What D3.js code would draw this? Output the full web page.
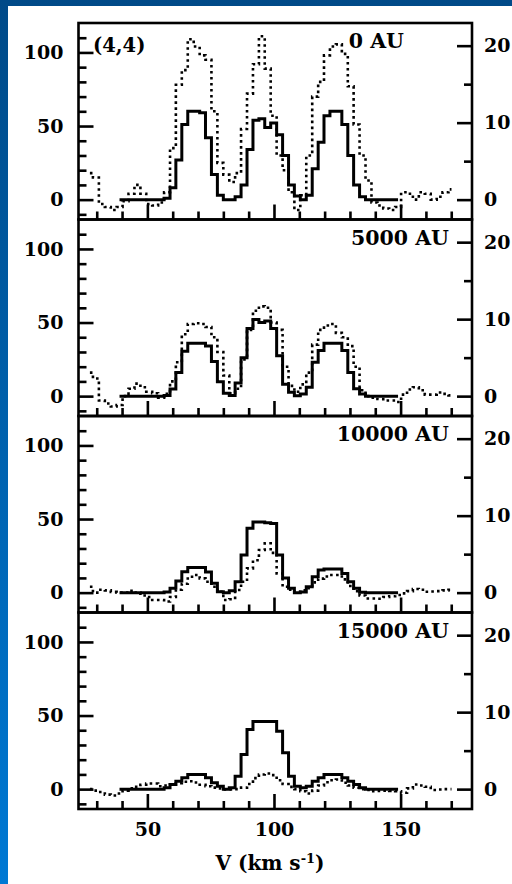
<!DOCTYPE html>
<html>
<head>
<meta charset="utf-8">
<script src="https://cdn.jsdelivr.net/npm/d3@7"></script>
<style>
  html, body { margin: 0; padding: 0; background: #fff; }
  svg { display: block; }
  text { font-family: "DejaVu Serif", serif; font-weight: bold; fill: #000; }
</style>
</head>
<body>
<svg id="chart" width="512" height="884"></svg>
<script>
// Perfis de linha (4,4) em quatro distâncias

// Centros dos canais (km/s)
const velocity = [
  27.3, 29.7, 32.0, 34.4, 36.7, 39.0, 41.4, 43.7, 46.1, 48.4,
  50.7, 53.1, 55.4, 57.8, 60.1, 62.4, 64.8, 67.1, 69.5, 71.8,
  74.1, 76.5, 78.8, 81.2, 83.5, 85.8, 88.2, 90.5, 92.9, 95.2,
  97.5, 99.9, 102.2, 104.6, 106.9, 109.2, 111.6, 113.9, 116.3, 118.6,
  120.9, 123.3, 125.6, 128.0, 130.3, 132.6, 135.0, 137.3, 139.7, 142.0,
  144.3, 146.7, 149.0, 151.4, 153.7, 156.0, 158.4, 160.7, 163.1, 165.4,
  167.7, 170.1
];

const panelLabels = ['0 AU', '5000 AU', '10000 AU', '15000 AU'];

// Linha cheia (modelo)
const solid0 = [
  null, null, null, null, null, 0, 0, 0, 0, 0,
  0, 0, 0, 1, 8, 27, 51, 60, 60, 59,
  42, 17, 3, 0, 0, 2, 10, 34, 54, 55,
  49, 52, 44, 30, 10, 2.4, 0, 3, 21, 39,
  57, 60, 60, 51, 30, 10, 2, 0, 0, 0,
  0, 0, 0, null, null, null, null, null, null, null,
  null, null
];
const solid5000 = [
  null, null, null, null, null, 0, 0, 0, 0, 0,
  0, 0, 0, 0.5, 4.8, 16, 30.5, 36, 36, 36,
  34, 23.6, 9.8, 2, 0.5, 9, 26, 46, 52, 50,
  51, 46, 27.5, 8, 2.6, 0.3, 1.5, 6, 23, 31,
  36, 36, 36, 31, 16, 5, 1.4, 0, 0, 0,
  0, 0, 0, null, null, null, null, null, null, null,
  null, null
];
const solid10000 = [
  null, null, null, null, null, 0, 0, 0, 0, 0,
  0, 0, 0, 0.5, 2.9, 7.9, 14.2, 17, 17, 17,
  14, 6.3, 0.6, 0, 1.3, 7.4, 25.5, 43.7, 48, 48,
  47.5, 47, 25.5, 10, 2.9, 0, 0.5, 4, 10.8, 15.4,
  16, 16, 16, 13, 7.4, 2.9, 0.3, 0, 0, 0,
  0, 0, 0, null, null, null, null, null, null, null,
  null, null
];
const solid15000 = [
  null, null, null, null, null, 0, 0, 0, 0, 0,
  0, 0, 0, 1, 3.1, 5.4, 7.7, 9.9, 10, 10,
  7.7, 4.3, 2, 0, 1, 8.8, 23.5, 40.5, 46, 46,
  46, 46, 39.3, 24.7, 8.8, 2, 0.9, 2, 5.4, 7.7,
  9.9, 10, 10, 7.7, 5.4, 3.1, 0.9, 0, 0, 0,
  0, 0, 0, null, null, null, null, null, null, null,
  null, null
];

// Linha pontilhada (observado)
const dotted0 = [
  18, 15, -3, -5, -7, -5, -1, 4, 10, 4,
  -3, -4, -2, 5, 35, 78, 88, 109, 104, 98,
  95, 60, 25, 17, 12, 18, 48, 72, 92, 111,
  89, 57, 30, 20, 5, -7, 3, 30, 70, 80,
  98, 104, 105.5, 99, 77, 51, 30, 13, -2, -4,
  -6, -7, -5, 5, 4, 0, 5, 4, 0, 2,
  5, 7
];
const dotted5000 = [
  16, 12, -3, -5, -7, -6, 0, 5, 8.5, 6,
  3, 2, -1, 1.5, 10, 23, 42, 49, 49.5, 49,
  47, 40, 30, 14, 2, 5, 25, 45, 58, 61,
  60, 50, 45, 20, 7, 3, 8, 16, 35, 45,
  48, 49, 43, 40, 34, 20, 4, 0, -1, -2,
  -3, -3, -4, 1, 4.5, 6, 4, 1, 1, 2.5,
  1.5, 0.5
];
const dotted10000 = [
  4, 0, 2, 1.5, 0.5, 0, 0, 1.3, 0, -2,
  -3, -5, -5, -6, -3, 2, 6, 10.8, 12, 9.7,
  7.4, 4, 0.6, -5, -4.5, 1.8, 7.4, 16.5, 22, 29,
  33.5, 27, 13, 4, 2, 0.6, 1.5, 3, 7, 9.5,
  11, 12, 12, 9, 4.5, 1, -2, -4, -4, -4.2,
  -3, -2.5, -1.6, -0.5, 1, 2.5, 2, 0.6, 0.8, 1,
  1.5, 2
];
const dotted15000 = [
  0, -1, -2, -3.7, -4.3, -3, -1, 0.5, 1.6, 3,
  3.8, 3.8, 2, 2.5, 3.1, 4, 5, 5.4, 4.5, 3,
  2, 1, 0.5, -0.3, -0.3, 0, 1, 3.5, 7.5, 9.9,
  10.6, 9.5, 6, 3.5, 1.5, 0, -1.4, -3, -1, 2.5,
  4.7, 6, 6.5, 4.3, 2.5, 0.9, 0, -0.5, -1.4, -1.2,
  -1, -1.2, -1.4, -2.5, 0.5, 3.1, 2.5, 1.6, -0.6, -0.3,
  0, 0
];

const solidSeries = [solid0, solid5000, solid10000, solid15000];
const dottedSeries = [dotted0, dotted5000, dotted10000, dotted15000];

// Ticks
const leftMajor = [0, 50, 100];
const leftMinor = [-10, 10, 20, 30, 40, 60, 70, 80, 90, 110];
const rightMajor = [0, 10, 20];
const rightMinor = [5, 15];
const xMajor = [50, 100, 150];
const xMinor = [30, 40, 60, 70, 80, 90, 110, 120, 130, 140, 160, 170];

const W = 512, H = 884;
const plot = { left: 78.5, right: 472, top: 23, panelH: 196.5 };
const yDomain = [-13.5, 120];
const rightRatio = 5.23; // unidades esquerda por unidade direita
const lw = 2.6;

const svg = d3.select('#chart');

// Fundo azul com borda
const defs = svg.append('defs');
const grad = defs.append('linearGradient')
  .attr('id', 'bg').attr('x1', 0).attr('y1', 0).attr('x2', 0).attr('y2', 1);
grad.append('stop').attr('offset', '0%').attr('stop-color', '#004a88');
grad.append('stop').attr('offset', '100%').attr('stop-color', '#0079d4');
svg.append('rect').attr('width', W).attr('height', H).attr('fill', 'url(#bg)');
svg.append('rect').attr('x', 8).attr('y', 6).attr('width', W - 8).attr('height', H - 6).attr('fill', '#fff');

const x = d3.scaleLinear().domain([22.8, 178.2]).range([plot.left, plot.right]);

function styleAxis(g, size) {
  g.select('.domain').remove();
  g.selectAll('line').attr('stroke', '#000').attr('stroke-width', lw);
  g.attr('font-size', size);
}

panelLabels.forEach((label, i) => {
  const top = plot.top + i * plot.panelH;
  const bottom = top + plot.panelH;
  const y = d3.scaleLinear().domain(yDomain).range([bottom, top]);
  const yR = d3.scaleLinear().domain(yDomain.map(v => v / rightRatio)).range([bottom, top]);
  const g = svg.append('g');

  // Eixo esquerdo
  g.append('g').attr('transform', `translate(${plot.left},0)`)
    .call(d3.axisLeft(y).tickValues(leftMinor).tickSize(-8).tickFormat(''))
    .call(s => styleAxis(s, 19));
  g.append('g').attr('transform', `translate(${plot.left},0)`)
    .call(d3.axisLeft(y).tickValues(leftMajor).tickSize(-15).tickPadding(15))
    .call(s => styleAxis(s, 19));

  // Eixo direito
  g.append('g').attr('transform', `translate(${plot.right},0)`)
    .call(d3.axisRight(yR).tickValues(rightMinor).tickSize(-8).tickFormat(''))
    .call(s => styleAxis(s, 19));
  g.append('g').attr('transform', `translate(${plot.right},0)`)
    .call(d3.axisRight(yR).tickValues(rightMajor).tickSize(-15).tickPadding(12))
    .call(s => styleAxis(s, 19));

  // Eixo X (ticks em todos, rótulos só no último)
  g.append('g').attr('transform', `translate(0,${bottom})`)
    .call(d3.axisBottom(x).tickValues(xMinor).tickSize(-8).tickFormat(''))
    .call(s => styleAxis(s, 19));
  g.append('g').attr('transform', `translate(0,${bottom})`)
    .call(d3.axisBottom(x).tickValues(xMajor).tickSize(-15).tickPadding(14)
      .tickFormat(i === panelLabels.length - 1 ? d3.format('d') : ''))
    .call(s => styleAxis(s, 19));

  // Perfis
  const line = d3.line()
    .defined(d => d[1] != null)
    .x(d => x(d[0]))
    .y(d => y(d[1]))
    .curve(d3.curveStep);

  g.append('path')
    .datum(velocity.map((v, k) => [v, dottedSeries[i][k]]))
    .attr('d', line)
    .attr('fill', 'none')
    .attr('stroke', '#000')
    .attr('stroke-width', lw)
    .attr('stroke-dasharray', '2.6,3.4');

  g.append('path')
    .datum(velocity.map((v, k) => [v, solidSeries[i][k]]))
    .attr('d', line)
    .attr('fill', 'none')
    .attr('stroke', '#000')
    .attr('stroke-width', 3)
    .attr('stroke-linejoin', 'miter');

  // Rótulo do painel
  g.append('text')
    .attr('x', i === 0 ? 404 : 449)
    .attr('y', top + 25)
    .attr('text-anchor', 'end')
    .attr('font-size', 20.5)
    .text(label);

  // Separador / moldura
  g.append('rect')
    .attr('x', plot.left).attr('y', top)
    .attr('width', plot.right - plot.left).attr('height', plot.panelH)
    .attr('fill', 'none').attr('stroke', '#000').attr('stroke-width', lw);
});

// Rótulo da transição
svg.append('text')
  .attr('x', 93).attr('y', plot.top + 29)
  .attr('font-size', 19.5)
  .text('(4,4)');

// Título do eixo X
const xt = svg.append('text')
  .attr('x', 270).attr('y', 870)
  .attr('text-anchor', 'middle')
  .attr('font-size', 20);
xt.append('tspan').text('V (km s');
xt.append('tspan').attr('dy', -7).attr('font-size', 13).text('-1');
xt.append('tspan').attr('dy', 7).text(')');
</script>
</body>
</html>
